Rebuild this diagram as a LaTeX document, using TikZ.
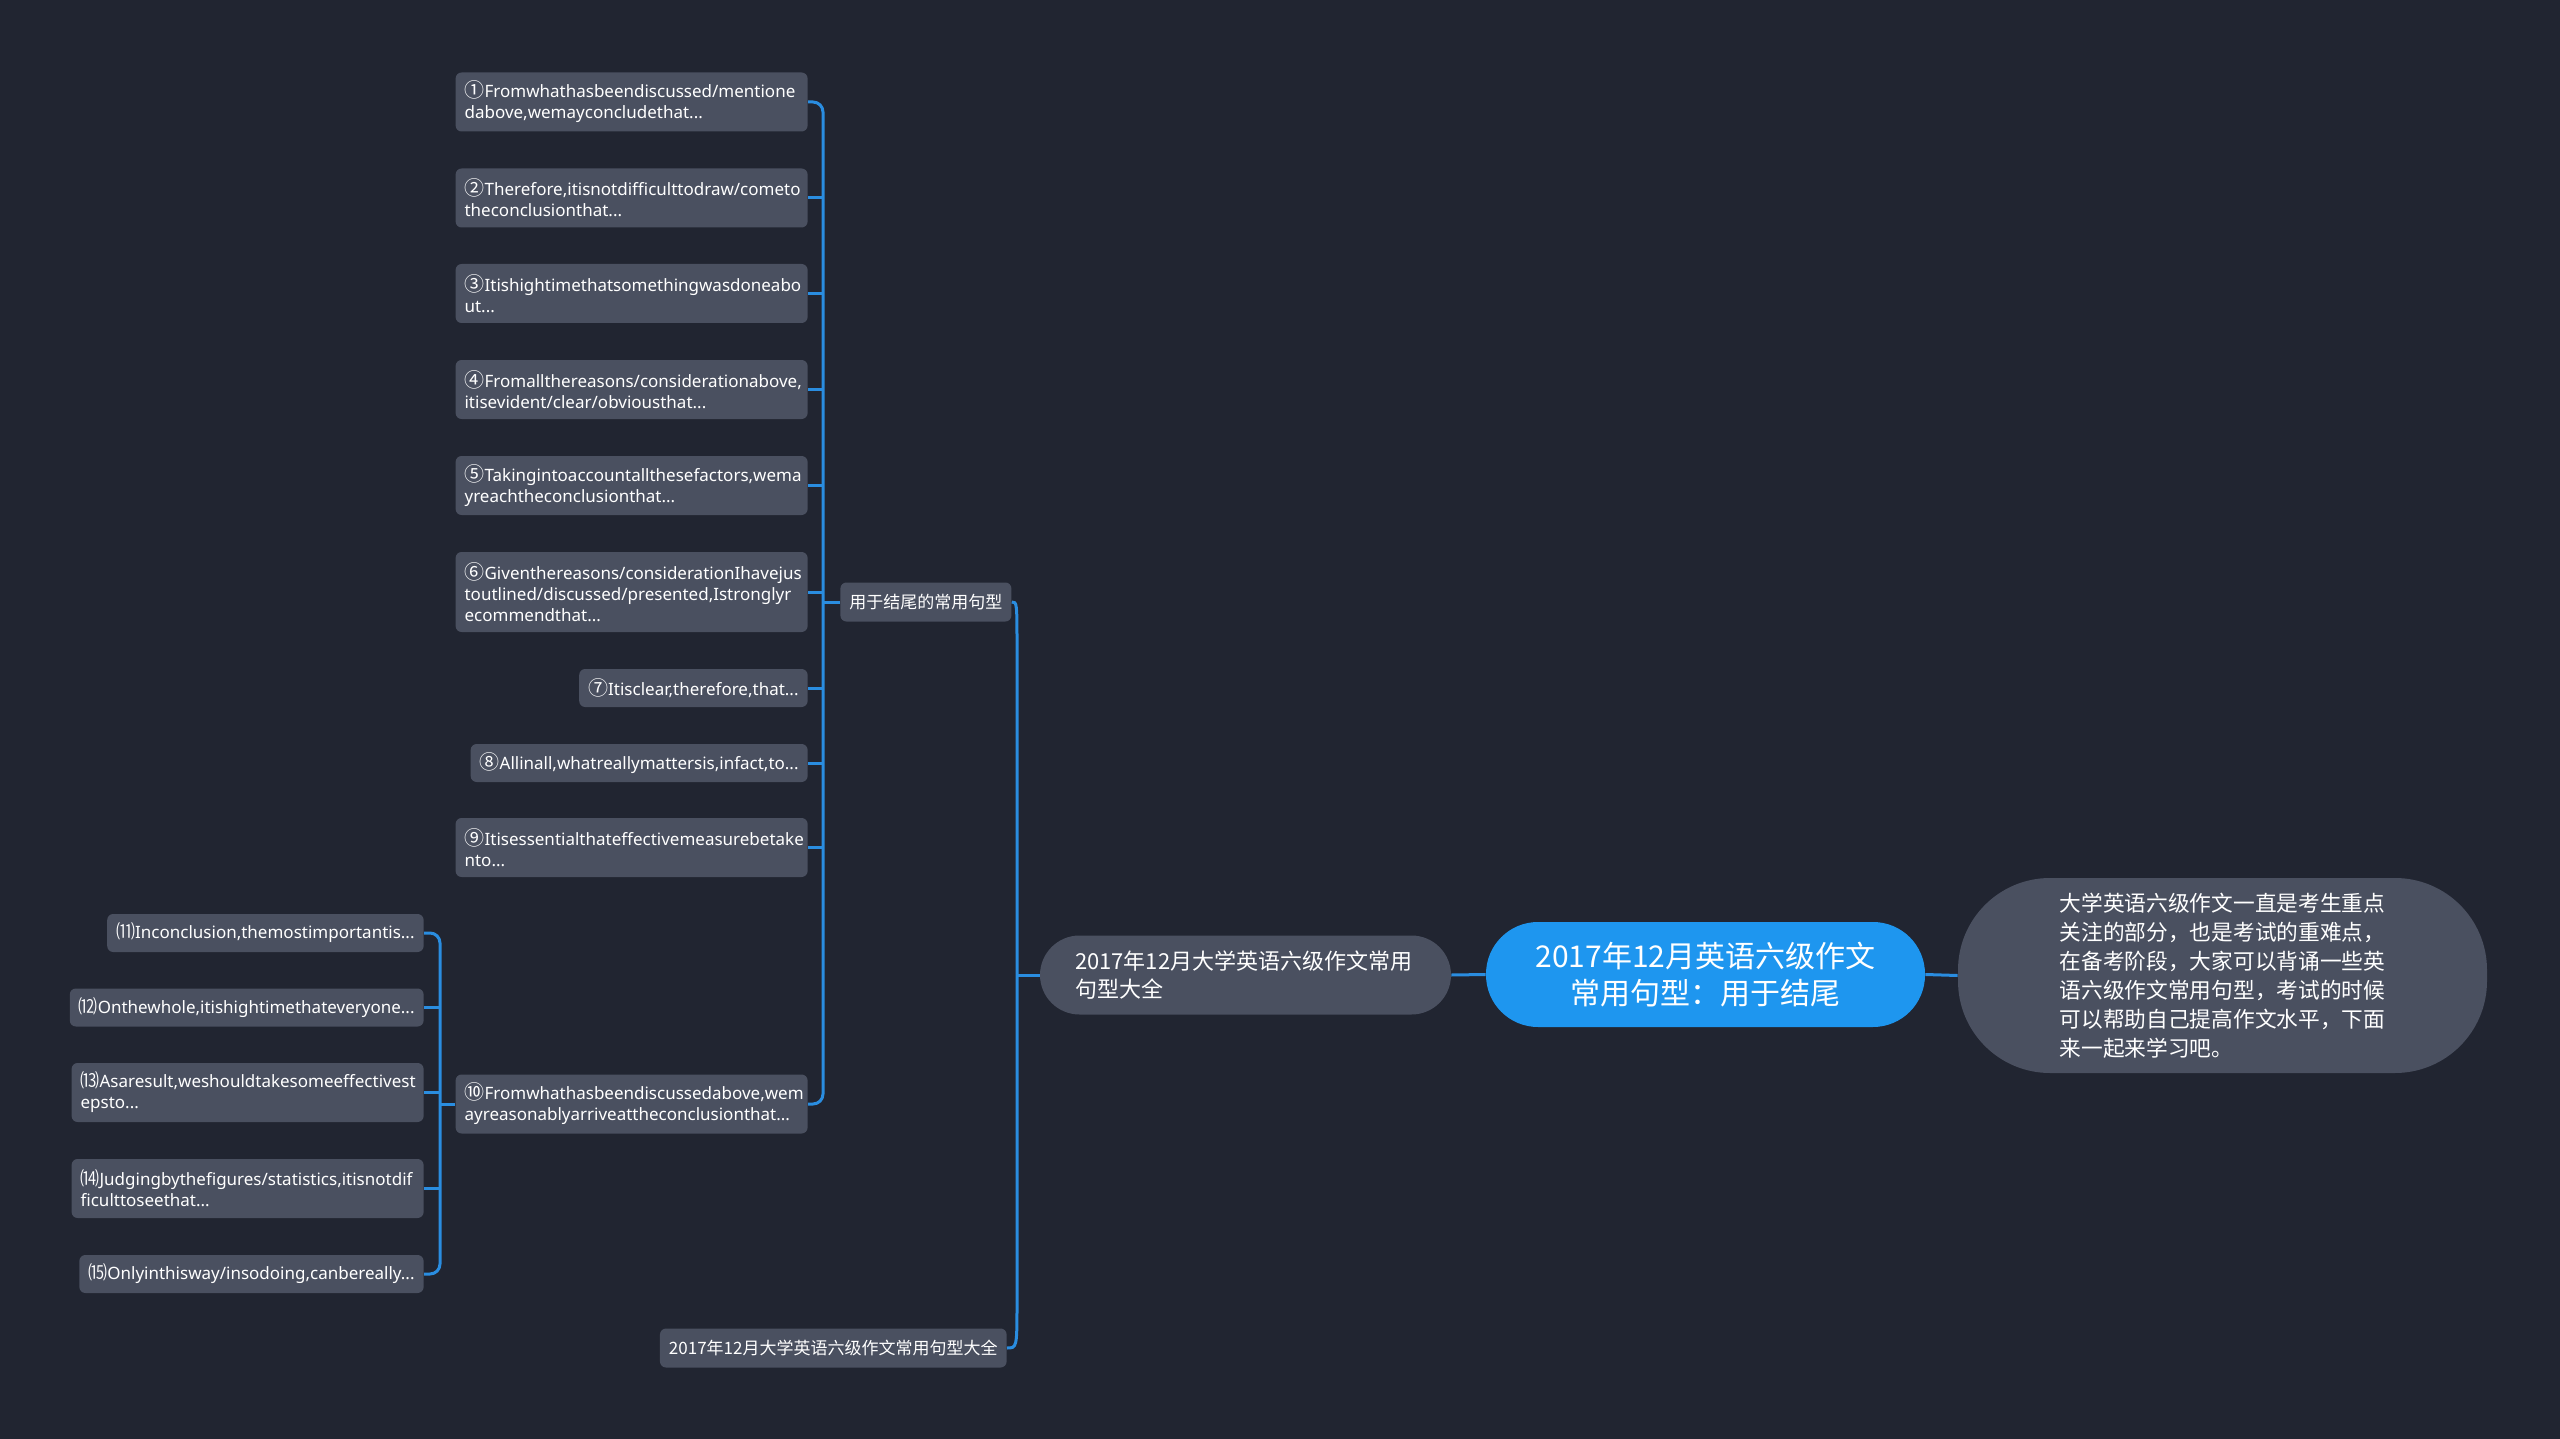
\documentclass[tikz,border=0pt]{standalone}
\usepackage{fontspec}
\setmainfont{Noto Sans CJK SC}
\newfontfamily\latinf{Noto Sans}
\newfontfamily\cjkf{Noto Sans CJK SC}
\definecolor{bg}{HTML}{212531}
\definecolor{nodegray}{HTML}{4A5060}
\definecolor{rootblue}{HTML}{1E96EF}
\definecolor{lineblue}{HTML}{2A8DE0}
\newcommand{\cn}[1]{{\cjkf\fontsize{10}{10.5}\selectfont #1}}
\newcommand{\pn}[1]{{\cjkf\fontsize{9.5}{10.5}\selectfont #1}}
\begin{document}
\begin{tikzpicture}[x=0.5pt,y=-0.5pt,
  box/.style={fill=nodegray, rounded corners=3pt, text=white, inner xsep=4.5pt, inner ysep=1pt,
    font=\latinf\fontsize{8.5}{10.5}\selectfont, align=left},
  wide/.style={box, text width=167pt},
  one/.style={minimum height=19pt},
  two/.style={minimum height=29.5pt},
  three/.style={minimum height=40pt},
  cbox/.style={fill=nodegray, rounded corners=3pt, text=white, inner xsep=4.5pt, inner ysep=1pt,
    font=\cjkf\fontsize{8.5}{10.5}\selectfont, minimum height=19.5pt},
  conn/.style={draw=lineblue, line width=1.5pt, rounded corners=5pt}]
\fill[bg] (0,0) rectangle (2560,1439);
\useasboundingbox (0,0) rectangle (2560,1439);

% level 3 boxes (right column)
\node[wide,two,anchor=east] (b1) at (808,102) {\cn{①}Fromwhathasbeendiscussed/mentione\\dabove,wemayconcludethat...};
\node[wide,two,anchor=east] (b2) at (808,198) {\cn{②}Therefore,itisnotdifficulttodraw/cometo\\theconclusionthat...};
\node[wide,two,anchor=east] (b3) at (808,293.5) {\cn{③}Itishightimethatsomethingwasdoneabo\\ut...};
\node[wide,two,anchor=east] (b4) at (808,389.5) {\cn{④}Fromallthereasons/considerationabove,\\itisevident/clear/obviousthat...};
\node[wide,two,anchor=east] (b5) at (808,485.5) {\cn{⑤}Takingintoaccountallthesefactors,wema\\yreachtheconclusionthat...};
\node[wide,three,anchor=east] (b6) at (808,592) {\cn{⑥}Giventhereasons/considerationIhavejus\\toutlined/discussed/presented,Istronglyr\\ecommendthat...};
\node[box,one,anchor=east] (b7) at (808,688) {\cn{⑦}Itisclear,therefore,that...};
\node[box,one,anchor=east] (b8) at (808,763) {\cn{⑧}Allinall,whatreallymattersis,infact,to...};
\node[wide,two,anchor=east] (b9) at (808,847.5) {\cn{⑨}Itisessentialthateffectivemeasurebetake\\nto...};
\node[wide,two,anchor=east] (b10) at (808,1104) {\cn{⑩}Fromwhathasbeendiscussedabove,wem\\ayreasonablyarriveattheconclusionthat...};

% level 4 boxes
\node[box,one,anchor=east] (b11) at (424,933) {\pn{⑾}Inconclusion,themostimportantis...};
\node[box,one,anchor=east] (b12) at (424,1007.5) {\pn{⑿}Onthewhole,itishightimethateveryone...};
\node[wide,two,anchor=east] (b13) at (424,1092.5) {\pn{⒀}Asaresult,weshouldtakesomeeffectivest\\epsto...};
\node[wide,two,anchor=east] (b14) at (424,1188.5) {\pn{⒁}Judgingbythefigures/statistics,itisnotdif\\ficulttoseethat...};
\node[box,one,anchor=east] (b15) at (424,1274) {\pn{⒂}Onlyinthisway/insodoing,canbereally...};

% level 2 nodes
\node[cbox,anchor=west] (yong) at (840,602) {用于结尾的常用句型};
\node[cbox,anchor=east] (small) at (1007,1348) {2017年12月大学英语六级作文常用句型大全};

% level 1
\node[fill=nodegray, rounded corners=19.75pt, text=white, minimum width=205.5pt, minimum height=39.5pt,
  inner xsep=17.5pt, text width=170.5pt, align=left, font=\cjkf\fontsize{11}{14}\selectfont]
  (l1) at (1245.5,975) {2017年12月大学英语六级作文常用\\句型大全};

% root
\node[fill=rootblue, rounded corners=26pt, text=white, minimum width=219.5pt, minimum height=52.5pt,
  align=center, font=\cjkf\fontsize{15}{18.8}\selectfont]
  (root) at (1705.5,974.5) {2017年12月英语六级作文\\常用句型：用于结尾};

% description
\node[fill=nodegray, rounded corners=46pt, text=white, minimum width=264.5pt, minimum height=97.5pt,
  align=left, font=\cjkf\fontsize{10.85}{14.5}\selectfont]
  (desc) at (2222.5,975.5) {大学英语六级作文一直是考生重点\\关注的部分，也是考试的重难点，\\在备考阶段，大家可以背诵一些英\\语六级作文常用句型，考试的时候\\可以帮助自己提高作文水平，下面\\来一起来学习吧。};

% connectors
\draw[conn] (b1.east) -- (823,102) -- (823,1104) -- (b10.east);
\foreach \n in {b2,b3,b4,b5,b6,b7,b8,b9} \draw[conn] (\n.east) -- ++(15,0);
\draw[conn] (yong.west) -- ++(-17,0);

\draw[conn] (b11.east) -- (440,933) -- (440,1274) -- (b15.east);
\foreach \n in {b12,b13,b14} \draw[conn] (\n.east) -- ++(16,0);
\draw[conn] (b10.west) -- ++(-16,0);

\draw[draw=lineblue, line width=1.5pt] (yong.east) .. controls (1017,602) .. (1017,650) -- (1017,1300) .. controls (1017,1348) .. (small.east);
\draw[conn] (l1.west) -- (1017,975);

\draw[conn] (root.west) -- (l1.east);
\draw[conn] (root.east) -- (desc.west);
\end{tikzpicture}
\end{document}
